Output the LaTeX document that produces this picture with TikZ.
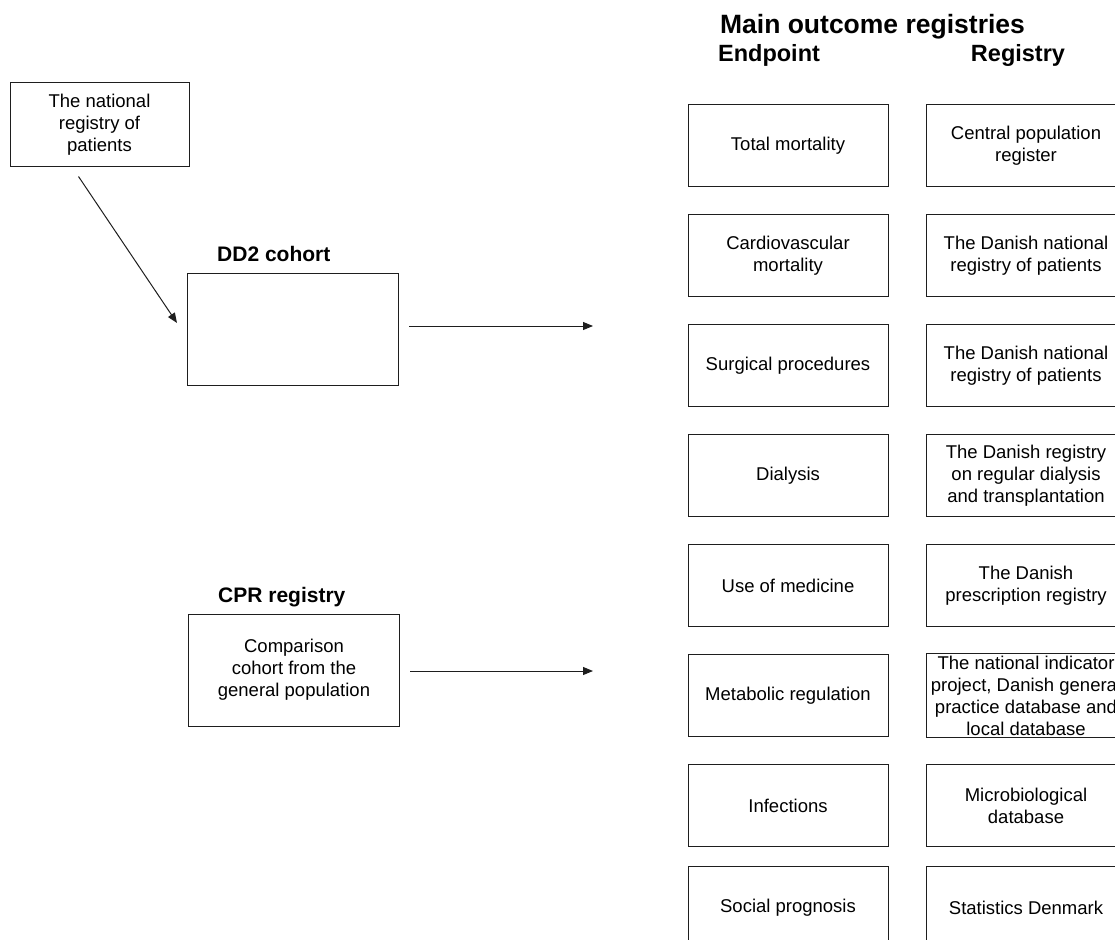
\documentclass[tikz,border=0pt]{standalone}
\usepackage{fontspec}
\setmainfont{Liberation Sans}
\usepackage{tikz}
\usetikzlibrary{arrows.meta, positioning}
\definecolor{LineGray}{RGB}{30, 30, 30}
\tikzset{
  box/.style={rectangle, draw=LineGray, line width=1pt, align=center,
    inner sep=2pt, font=\fontsize{18.5}{22}\selectfont, text=black},
  endbox/.style={box, minimum width=200pt, minimum height=82pt},
  regbox/.style={box, minimum width=200pt, minimum height=82pt},
  grp/.style={font=\fontsize{21}{25}\selectfont\bfseries, inner sep=0pt},
  colhead/.style={font=\fontsize{23.5}{28}\selectfont\bfseries, inner sep=0pt},
  ttl/.style={font=\fontsize{26.5}{30}\selectfont\bfseries, inner sep=0pt},
  arr/.style={-{Triangle[length=10pt, width=8pt]}, line width=1pt,
    color=LineGray},
}

\begin{document}
\begin{tikzpicture}[x=1pt, y=-1pt, node distance=27pt and 37pt]
  \useasboundingbox (0,0) rectangle (1115,939);
  % cohorts
  \node[box, minimum width=179pt, minimum height=83pt] (pat) at (99.5,124.5)
    {The national\\registry of\\patients};
  \node[box, minimum width=211pt, minimum height=112pt] (dd2) at (293,329) {};
  \node[grp, anchor=base west] (dd2lbl)
    at ([xshift=30pt, yshift=11pt]dd2.north west) {DD2 cohort};
  \node[box, minimum width=211pt, minimum height=112pt] (cpr) at (294,670)
    {Comparison\\cohort from the\\general population};
  \node[grp, anchor=base west] (cprlbl)
    at ([xshift=30pt, yshift=11pt]cpr.north west) {CPR registry};
  \coordinate (dd2tip) at (593,326);
  \coordinate (cprtip) at (593,671);
  \draw[arr] ([xshift=-21pt, yshift=-10pt]pat.south)
    -- ([xshift=-10pt, yshift=6pt]dd2.west);
  \draw[arr, shorten <=10pt] (dd2.east |- dd2tip) -- (dd2tip);
  \draw[arr, shorten <=10pt] (cpr.east |- cprtip) -- (cprtip);
  % outcome registries
  \node[ttl, anchor=base] (title) at (872.5,34) {Main outcome registries};
  \node[colhead, anchor=base] (endhd) at (769,62) {Endpoint};
  \node[colhead, anchor=base] (reghd) at (1018,62) {Registry};
  \node[endbox] (e1) at (788,145.5) {Total mortality};
  \node[endbox, below=of e1] (e2) {Cardiovascular\\mortality};
  \node[endbox, below=of e2] (e3) {Surgical procedures};
  \node[endbox, below=of e3] (e4) {Dialysis};
  \node[endbox, below=of e4] (e5) {Use of medicine};
  \node[endbox, below=of e5] (e6) {Metabolic regulation};
  \node[endbox, below=of e6] (e7) {Infections};
  \node[endbox, below=19pt of e7] (e8) {Social prognosis};
  \node[regbox, right=of e1] (r1) {Central population\\register};
  \node[regbox, right=of e2] (r2) {The Danish national\\registry of patients};
  \node[regbox, right=of e3] (r3) {The Danish national\\registry of patients};
  \node[regbox, right=of e4] (r4)
    {The Danish registry\\on regular dialysis\\and transplantation};
  \node[regbox, right=of e5] (r5) {The Danish\\prescription registry};
  \node[regbox, right=of e6] (r6) {The national indicator\\project, Danish general\\practice database and\\local database};
  \node[regbox, right=of e7] (r7) {Microbiological\\database};
  \node[regbox, right=of e8] (r8) {Statistics Denmark};
\end{tikzpicture}
\end{document}
